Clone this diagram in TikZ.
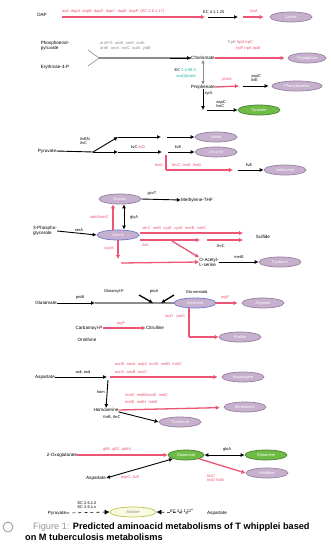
\documentclass[tikz,border=0pt]{standalone}
\usepackage{fontspec}
\setmainfont{Liberation Sans}
\usetikzlibrary{arrows.meta,shapes.geometric}
\definecolor{redc}{RGB}{236,86,116}
\definecolor{grayc}{RGB}{140,140,140}
\definecolor{purf}{RGB}{198,176,206}
\definecolor{purd}{RGB}{150,128,160}
\definecolor{blud}{RGB}{110,120,200}
\definecolor{grnf}{RGB}{112,186,70}
\definecolor{grnd}{RGB}{70,130,50}
\definecolor{tealc}{RGB}{30,180,160}
\definecolor{yeld}{RGB}{185,195,80}
\definecolor{yelf}{RGB}{250,250,225}
\definecolor{capg}{RGB}{150,150,150}
\begin{document}
\begin{tikzpicture}[x=1pt,y=-1pt,
  lbl/.style={font=\fontsize{4}{4.6}\selectfont, inner sep=0pt, align=left},
  rlbl/.style={lbl, text=redc},
  txt/.style={font=\fontsize{4.6}{5.2}\selectfont, inner sep=0pt, align=left},
  pov/.style={ellipse, draw=purd, fill=purf, line width=0.7pt, minimum width=42pt, minimum height=10pt, inner sep=0pt, font=\fontsize{4}{4}\selectfont, text=white},
  bov/.style={pov, draw=blud},
  gov/.style={pov, draw=grnd, fill=grnf},
  yov/.style={pov, draw=yeld, fill=yelf, text=grayc},
  redarr/.style={draw=redc, line width=1.3pt, -{Latex[length=4pt,width=4.5pt]}},
  blkarr/.style={draw=black, line width=0.9pt, -{Latex[length=4pt,width=4pt]}},
  dblarr/.style={draw=black, line width=0.9pt, {Latex[length=4pt,width=4pt]}-{Latex[length=4pt,width=4pt]}},
  grayline/.style={draw=grayc, line width=1.6pt},
  dashblk/.style={draw=black, line width=0.6pt, dashed, -{Latex[length=5pt,width=5pt]}}
]
\useasboundingbox (0,0) rectangle (330,554);
\fill[white] (0,0) rectangle (330,554);

% ---------- Section 1 : lysine
\node[txt] (dap) at (42,15) {DAP};
\coordinate (a1) at (62,17);
\coordinate (a2) at (205,17);
\coordinate (a2b) at (208,17);
\coordinate (a3) at (238,17);
\coordinate (a3b) at (243,17);
\node[pov] (lys) at (291,17) {Lysine};
\draw[redarr] (a1) -- (a2);
\draw[blkarr] (a2b) -- (a3);
\draw[redarr, shorten >=6pt] (a3b) -- (lys);
\node[rlbl, anchor=south west] at (62,14) {asd \ dapA \ dapB \ dapD \ dapC \ dapE \ dapF \ (EC 2.6.1.17)};
\node[lbl, anchor=south west] at (203,14) {EC 4.1.1.20};
\node[rlbl, anchor=south] at (254,14) {lysA};

% ---------- Section 2 : aromatic
\node[txt] (pep) at (55,46) {Phosphoenol-\\pyruvate};
\node[txt] (e4p) at (55,67) {Erythrose-4-P};
\coordinate (br) at (99,58);
\draw[grayc, line width=0.6pt] (88,50) -- (br) -- (88,66);
\node[txt] (cho) at (203,58) {Chorismate};
\draw[grayline] (br) -- (cho.west);
\draw[blkarr] (170,58) -- (cho.west);
\node[lbl, text=grayc, anchor=south west] at (100,45) {aroF/G \ aroB \ aroD \ aroE};
\node[lbl, text=grayc, anchor=south west] at (100,51) {aroK \ aroA \ aroC \ qutA \ ydiB};
\node[pov, minimum width=38pt] (trp) at (307,58) {Tryptophan};
\draw[redarr, shorten >=3pt] (cho.east) -- (trp);
\node[lbl, anchor=south west] at (227,45) {\textcolor{grayc}{TrpE} \textcolor{redc}{trpD trpC}};
\node[rlbl, anchor=south west] at (236,51) {trpF trpA trpB};

\node[txt] (pre) at (203,87) {Prephenate};
\draw[grayc, line width=1pt, {Latex[length=3.5pt,width=3.5pt]}-{Latex[length=3.5pt,width=3.5pt]}] (cho.south) -- (pre.north);
\node[lbl, anchor=east] at (196,70) {\textcolor{black}{EC} \textcolor{tealc}{5.4.99.5}};
\node[lbl, anchor=east, text=tealc] at (196,76) {aroQ/pheA};
\coordinate (p1) at (239,86);
\coordinate (p2) at (243,86);
\draw[redarr] (pre.east) -- (p1);
\node[rlbl, anchor=south] at (227,82) {pheA};
\node[pov, minimum width=50pt] (phe) at (297,86) {Phenylalanine};
\draw[blkarr, shorten >=3pt] (p2) -- (phe);
\node[lbl, anchor=south] at (256,82) {aspC\\ilvE};
\node[lbl, anchor=north west] at (205,92) {tyrA};
\coordinate (hpp) at (203,110);
\draw[blkarr] (pre.south) -- (hpp);
\node[gov] (tyr) at (259,110) {Tyrosine};
\draw[blkarr] ([xshift=4pt]hpp) -- (tyr);
\node[lbl, anchor=south] at (221,108) {aspC\\hisC};

% ---------- Section 3 : pyruvate family
\node[txt] (pyr) at (47,151) {Pyruvate};
\coordinate (b1) at (93,152);
\coordinate (b2) at (118,137);
\coordinate (b3) at (161,137);
\coordinate (b4) at (167,137);
\node[pov] (val) at (216,137) {Valine};
\draw[draw=black, line width=0.9pt] (pyr.east) -- (b1);
\draw[blkarr] (b1) -- (b2);
\draw[blkarr] (b2) -- (b3);
\draw[blkarr] (b4) -- (val);
\coordinate (c1) at (118,152);
\coordinate (c2) at (162,152);
\coordinate (c3) at (168,152);
\node[pov] (leu) at (216,152) {Leucine};
\draw[blkarr] (b1) -- (c1);
\draw[blkarr] (c1) -- (c2);
\draw[blkarr] (c3) -- (leu);
\node[lbl, anchor=east] at (90,141) {ilvBN\\ilvC};
\node[lbl, anchor=south] at (138,149) {ilvC \textcolor{redc}{ilvD}};
\node[lbl, anchor=south] at (178,149) {ilvE};
\coordinate (d1) at (166,155);
\coordinate (d2) at (166,170);
\coordinate (d3) at (233,170);
\coordinate (d4) at (238,170);
\draw[draw=redc, line width=1.3pt] (d1) -- (d2);
\draw[redarr] (d2) -- (d3);
\node[rlbl, anchor=east] at (163,165) {leuA};
\node[rlbl, anchor=south west] at (172,167) {leuC \ leuD \ leuB};
\node[pov] (ile) at (285,170) {Isoleucine};
\draw[blkarr] (d4) -- (ile);
\node[lbl, anchor=south] at (249,167) {ilvE};

% ---------- Section 4 : serine family
\node[pov] (gly) at (120,199) {Glycine};
\node[txt] (mthf) at (197,200) {Methylene-THF};
\draw[blkarr] (gly.east) -- (mthf.west);
\node[lbl, anchor=south] at (152,196) {gcvT};
\node[txt] (pg) at (45,231) {3-Phospho-\\glycerate};
\node[bov] (ser) at (118,235) {Serine};
\draw[blkarr] (pg.east) -- (ser.west);
\node[lbl, anchor=south] at (79,232) {serA};
\draw[dblarr] ([xshift=6pt]ser.north) -- ([xshift=4pt]gly.south);
\node[lbl, anchor=west] at (130,217) {glyA};
\draw[redarr] ([xshift=-5pt]ser.north) -- ([xshift=-7pt]gly.south);
\node[rlbl, anchor=east] at (109,217) {sdaA/serC};
\node[txt] (sul) at (263,237) {Sulfide};
\coordinate (e1) at (140,233);
\coordinate (e2) at (243,233);
\coordinate (e3) at (140,240);
\coordinate (e4) at (200,240);
\coordinate (e5) at (207,240);
\coordinate (e6) at (243,240);
\draw[redarr] (e1) -- (e2);
\draw[redarr] (e3) -- (e4);
\draw[redarr] (e5) -- (e6);
\node[rlbl, anchor=south west] at (142,231) {serC \ serB \ cysE \ cysK \ metB \ metC};
\node[rlbl, anchor=north west] at (142,243) {ilvA};
\node[lbl, anchor=north] at (221,244) {thrC};
\node[txt] (oas) at (209,262) {O-Acetyl-\\L-serine};
\coordinate (f1) at (172,241);
\draw[redarr] (f1) -- (oas.north west);
\coordinate (g1) at (118,259);
\coordinate (g2) at (121,263);
\draw[redarr] (ser.south) -- (g1);
\draw[redarr] (g2) -- (oas.west);
\node[rlbl, anchor=east] at (114,249) {cysM};
\node[pov] (cys) at (280,262) {Cysteine};
\draw[blkarr] (oas.east) -- (cys.west);
\node[lbl, anchor=south] at (239,259) {metE};

% ---------- Section 5 : glutamate family
\node[txt] (glu) at (46,303) {Glutamate};
\coordinate (h1) at (95,303);
\draw[blkarr] (glu.east) -- (h1);
\node[lbl, anchor=south] at (80,300) {proB};
\node[bov] (orn) at (195,303) {Ornithine};
\draw[grayline] (h1) -- (orn.west);
\node[lbl, anchor=south] at (114,294) {Glutamyl-P};
\coordinate (k1) at (139,295);
\coordinate (k2) at (153,303);
\coordinate (k3) at (174,295);
\coordinate (k4) at (161,303);
\draw[blkarr, line width=1.3pt] (k1) -- (k2);
\draw[blkarr, line width=1.3pt] (k3) -- (k4);
\node[lbl, anchor=south] at (154,294) {proA};
\node[lbl, anchor=south] at (197,294) {Glu-semiald.};
\node[pov] (arg) at (263,303) {Arginine};
\draw[redarr, shorten >=4pt] (orn.east) -- (arg);
\node[rlbl, anchor=south] at (225,300) {argF};
\node[pov] (pro) at (240,337) {Proline};
\coordinate (m1) at (189,337);
\draw[draw=redc, line width=1.3pt] ([xshift=-6pt]orn.south) -- (m1);
\draw[redarr] (m1) -- (pro.west);
\node[rlbl] at (175,317) {rocD \ \ proC};
\node[txt] (gln) at (89,328) {Carbamoyl-P};
\node[txt] (cit) at (155,328) {Citrulline};
\draw[redarr] (gln.east) -- (cit.west);
\node[rlbl, anchor=south] at (121,326) {argF};
\node[txt] (bic) at (87,340) {Ornithine};

% ---------- Section 6 : aspartate family
\node[txt] (asp) at (45,377) {Aspartate};
\coordinate (n1) at (107,377);
\draw[blkarr] (asp.east) -- (n1);
\node[lbl, anchor=south] at (83,374) {ask, asd};
\node[pov] (asn) at (243,377) {Asparagine};
\coordinate (n2) at (110,377);
\draw[redarr, shorten >=4pt] (n2) -- (asn);
\node[rlbl, anchor=south west] at (115,367) {asnB \ ansA \ aspA \ metA \ metB \ metC};
\node[rlbl, anchor=south west] at (115,374) {asnA \ ansB \ asnC};
\node[txt] (hom) at (106,410) {Homoserine};
\draw[blkarr] (108,380) -- (hom.north);
\node[lbl, anchor=east] at (105,392) {hom};
\node[pov] (met) at (245,407) {Methionine};
\draw[redarr, shorten >=4pt] (hom.east) -- (met);
\node[rlbl, anchor=south west] at (125,397) {metX \ metB/metZ \ metC};
\node[rlbl, anchor=south west] at (125,404) {metE \ metH \ metK};
\node[pov] (thr) at (180,422) {Threonine};
\draw[blkarr] (hom.south east) -- (thr.west);
\node[lbl, anchor=north] at (112,415) {thrB, thrC};

% ---------- Section 7 : glutamate / glutamine
\node[txt] (oxo) at (62,455) {2-Oxoglutarate};
\node[gov, minimum width=36pt] (glut) at (186,455) {Glutamate};
\draw[redarr] (oxo.east) -- (glut.west);
\node[rlbl, anchor=south west] at (103,452) {gltB \ gltD \ gdhA};
\node[gov] (glnn) at (266,455) {Glutamine};
\draw[dblarr] (glut.east) -- (glnn.west);
\node[lbl, anchor=south] at (227,452) {glnA};
\node[pov] (his) at (267,473) {Histidine};
\draw[redarr] (glut.south east) -- (his.west);
\node[rlbl, anchor=north west] at (207,474) {hisC\\hisD hisB};
\node[txt] (asp2) at (96,478) {Aspartate};
\draw[dblarr] (glut.south west) -- (asp2.east);
\node[rlbl, anchor=north west] at (121,475) {aspC, ilvE};

% ---------- Section 8 : alanine
\node[txt] (pyr2) at (57,513) {Pyruvate};
\node[yov, minimum width=46pt] (ala) at (133,512) {Alanine};
\draw[dashblk] (pyr2.east) -- (ala.west);
\node[lbl, anchor=south] at (87,509) {EC 2.6.1.2\\EC 2.6.1.x};
\node[txt] (asp3) at (217,513) {Aspartate};
\coordinate (q1) at (188,513);
\draw[dashblk] (q1) -- (ala.east);
\node[lbl, anchor=south west] at (170,513) {EC 4.1.1.12\textsuperscript{a}};

% ---------- Caption
\draw[capg, line width=0.8pt] (8,527) circle (5);
\node[anchor=west, inner sep=0pt, font=\fontsize{9.2}{10}\selectfont] (cap1) at (33,527) {\textcolor{capg}{Figure 1:} \textbf{Predicted aminoacid metabolisms of T whipplei based}};
\node[anchor=west, inner sep=0pt, font=\fontsize{9.2}{10}\selectfont] (cap2) at (25,537) {\textbf{on M tuberculosis metabolisms}};
\end{tikzpicture}
\end{document}
